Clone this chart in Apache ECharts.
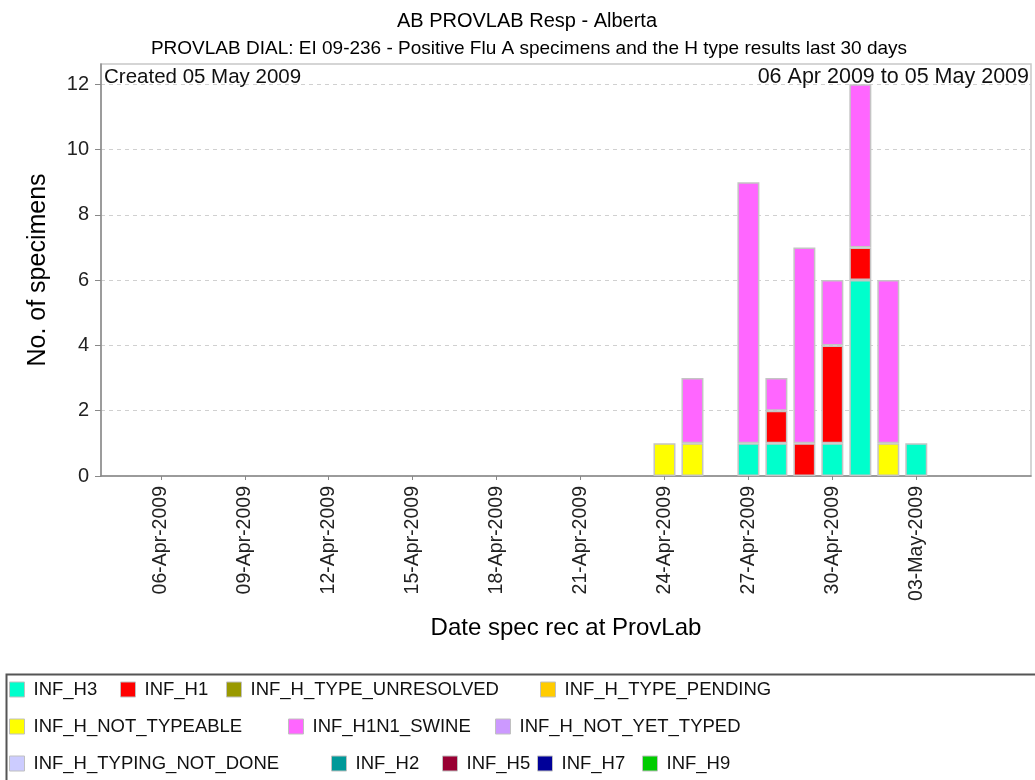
<!DOCTYPE html>
<html>
<head>
<meta charset="utf-8">
<script src="https://cdn.jsdelivr.net/npm/echarts@6/dist/echarts.min.js"></script>
<style>
html,body{margin:0;padding:0;background:#fff;}
#chart{width:1035px;height:780px;}
</style>
</head>
<body>
<div id="chart"></div>
<script>
// ---- data ----
const days = ['06-Apr-2009','07-Apr-2009','08-Apr-2009','09-Apr-2009','10-Apr-2009','11-Apr-2009','12-Apr-2009','13-Apr-2009','14-Apr-2009','15-Apr-2009',
              '16-Apr-2009','17-Apr-2009','18-Apr-2009','19-Apr-2009','20-Apr-2009','21-Apr-2009','22-Apr-2009','23-Apr-2009','24-Apr-2009','25-Apr-2009',
              '26-Apr-2009','27-Apr-2009','28-Apr-2009','29-Apr-2009','30-Apr-2009','01-May-2009','02-May-2009','03-May-2009','04-May-2009','05-May-2009'];
const tickLabels = ['06-Apr-2009','09-Apr-2009','12-Apr-2009','15-Apr-2009','18-Apr-2009','21-Apr-2009','24-Apr-2009','27-Apr-2009','30-Apr-2009','03-May-2009'];
const yTicks = [0, 2, 4, 6, 8, 10, 12];

const INF_H3                = [0,0,0,0,0,0,0,0,0,0, 0,0,0,0,0,0,0,0,0,0, 0,1,1,0,1,6,0,1,0,0];
const INF_H1                = [0,0,0,0,0,0,0,0,0,0, 0,0,0,0,0,0,0,0,0,0, 0,0,1,1,3,1,0,0,0,0];
const INF_H_TYPE_UNRESOLVED = [0,0,0,0,0,0,0,0,0,0, 0,0,0,0,0,0,0,0,0,0, 0,0,0,0,0,0,0,0,0,0];
const INF_H_TYPE_PENDING    = [0,0,0,0,0,0,0,0,0,0, 0,0,0,0,0,0,0,0,0,0, 0,0,0,0,0,0,0,0,0,0];
const INF_H_NOT_TYPEABLE    = [0,0,0,0,0,0,0,0,0,0, 0,0,0,0,0,0,0,0,1,1, 0,0,0,0,0,0,1,0,0,0];
const INF_H1N1_SWINE        = [0,0,0,0,0,0,0,0,0,0, 0,0,0,0,0,0,0,0,0,2, 0,8,1,6,2,5,5,0,0,0];
const INF_H_NOT_YET_TYPED   = [0,0,0,0,0,0,0,0,0,0, 0,0,0,0,0,0,0,0,0,0, 0,0,0,0,0,0,0,0,0,0];
const INF_H_TYPING_NOT_DONE = [0,0,0,0,0,0,0,0,0,0, 0,0,0,0,0,0,0,0,0,0, 0,0,0,0,0,0,0,0,0,0];
const INF_H2                = [0,0,0,0,0,0,0,0,0,0, 0,0,0,0,0,0,0,0,0,0, 0,0,0,0,0,0,0,0,0,0];
const INF_H5                = [0,0,0,0,0,0,0,0,0,0, 0,0,0,0,0,0,0,0,0,0, 0,0,0,0,0,0,0,0,0,0];
const INF_H7                = [0,0,0,0,0,0,0,0,0,0, 0,0,0,0,0,0,0,0,0,0, 0,0,0,0,0,0,0,0,0,0];
const INF_H9                = [0,0,0,0,0,0,0,0,0,0, 0,0,0,0,0,0,0,0,0,0, 0,0,0,0,0,0,0,0,0,0];

const seriesNames  = ['INF_H3','INF_H1','INF_H_TYPE_UNRESOLVED','INF_H_TYPE_PENDING','INF_H_NOT_TYPEABLE','INF_H1N1_SWINE',
                      'INF_H_NOT_YET_TYPED','INF_H_TYPING_NOT_DONE','INF_H2','INF_H5','INF_H7','INF_H9'];
const seriesValues = [INF_H3, INF_H1, INF_H_TYPE_UNRESOLVED, INF_H_TYPE_PENDING, INF_H_NOT_TYPEABLE, INF_H1N1_SWINE,
                      INF_H_NOT_YET_TYPED, INF_H_TYPING_NOT_DONE, INF_H2, INF_H5, INF_H7, INF_H9];
const seriesColors = ['#00FFCC','#FF0000','#999900','#FFCC00','#FFFF00','#FF66FF',
                      '#CC99FF','#CCCCFF','#009999','#990033','#000099','#00CC00'];

// ---- layout / style ----
const FONT = '"Liberation Sans", Arial, sans-serif';
const legendRows = [
  {top: 680, items: [[0, 9], [1, 120], [2, 226], [3, 540]]},
  {top: 717, items: [[4, 9], [5, 288], [6, 495]]},
  {top: 754, items: [[7, 9], [8, 331], [9, 442], [10, 537], [11, 642]]}
];
const legends = [];
legendRows.forEach(row => {
  row.items.forEach(([idx, x]) => {
    legends.push({
      data: [seriesNames[idx]],
      left: x, top: row.top, padding: 0,
      icon: 'rect', itemWidth: 15, itemHeight: 15,
      itemStyle: {borderColor: '#c0c0c0', borderWidth: 1},
      selectedMode: false,
      textStyle: {fontFamily: FONT, fontSize: 18.5, color: '#111', padding: [0, 0, 0, 4]}
    });
  });
});

// value dimension first (stacked), day index second (x)
const series = seriesNames.map((name, s) => ({
  name: name,
  type: 'bar',
  stack: 'total',
  barWidth: 22,
  color: seriesColors[s],
  encode: {x: 1, y: 0},
  itemStyle: {color: seriesColors[s], borderColor: '#c4c4c4', borderWidth: 1.5},
  emphasis: {disabled: true},
  data: seriesValues[s].map((v, i) => (v ? {value: [v, i]} : {value: [0, i], itemStyle: {borderWidth: 0, opacity: 0}}))
}));

const chart = echarts.init(document.getElementById('chart'), null, {renderer: 'canvas'});
chart.setOption({
  animation: false,
  backgroundColor: '#ffffff',
  title: [
    {text: 'AB PROVLAB Resp - Alberta', left: 522, textAlign: 'center', top: 6,
     textStyle: {fontFamily: FONT, fontSize: 20, fontWeight: 'normal', color: '#000'}},
    {text: 'PROVLAB DIAL: EI 09-236 - Positive Flu A specimens and the H type results last 30 days', left: 524, textAlign: 'center', top: 34,
     textStyle: {fontFamily: FONT, fontSize: 19, fontWeight: 'normal', color: '#000'}}
  ],
  legend: legends,
  grid: {left: 101, right: 4, top: 64, bottom: 304, show: true, borderColor: '#c8c8c8', borderWidth: 1.5, backgroundColor: '#fff'},
  xAxis: {
    type: 'value',
    min: -2.14, max: 31.1,
    name: 'Date spec rec at ProvLab', nameLocation: 'middle', nameGap: 140,
    nameTextStyle: {fontFamily: FONT, fontSize: 24, color: '#000'},
    axisLine: {show: true, onZero: false, lineStyle: {color: '#888', width: 1.5}},
    axisTick: {show: true, customValues: tickLabels.map(t => days.indexOf(t)), length: 4, lineStyle: {color: '#888'}},
    axisLabel: {customValues: tickLabels.map(t => days.indexOf(t)), rotate: 90, margin: 10,
                fontFamily: FONT, fontSize: 19.5, color: '#222',
                formatter: v => days[Math.round(v)]},
    splitLine: {show: false}
  },
  yAxis: {
    type: 'value',
    min: 0, max: 12.62, interval: 2,
    name: 'No. of specimens', nameLocation: 'middle', nameGap: 50,
    nameTextStyle: {fontFamily: FONT, fontSize: 25, color: '#000'},
    axisLine: {show: true, onZero: false, lineStyle: {color: '#888', width: 1.5}},
    axisTick: {show: true, length: 6, lineStyle: {color: '#888'}, customValues: yTicks},
    axisLabel: {customValues: yTicks, margin: 12, fontFamily: FONT, fontSize: 20, color: '#222'},
    splitLine: {show: true, lineStyle: {color: '#d0d0d0', type: [4, 4], width: 1}}
  },
  graphic: [
    {type: 'text', left: 104, top: 67, z: 10,
     style: {text: 'Created 05 May 2009', fontFamily: FONT, fontSize: 20.5, fill: '#111'}},
    {type: 'text', right: 6, top: 66, z: 10,
     style: {text: '06 Apr 2009 to 05 May 2009', fontFamily: FONT, fontSize: 21.5, fill: '#111'}},
    {type: 'rect', left: 4, top: 672, z: 0, silent: true,
     shape: {width: 1040, height: 120},
     style: {fill: 'none', stroke: '#555', lineWidth: 2}}
  ],
  series: series
});
</script>
</body>
</html>
